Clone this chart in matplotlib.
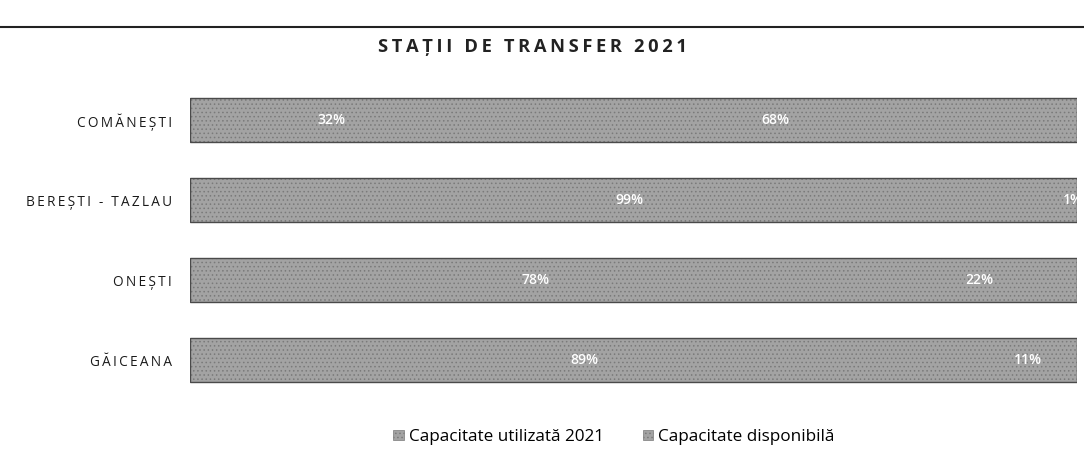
import matplotlib
matplotlib.use("Agg")
import matplotlib.pyplot as plt
from matplotlib.lines import Line2D
from matplotlib.patches import Patch

categories = ["COMĂNEȘTI", "BEREȘTI - TAZLAU", "ONEȘTI", "GĂICEANA"]
used = [32, 99, 78, 89]
available = [68, 1, 22, 11]
series_names = ["Capacitate utilizată 2021", "Capacitate disponibilă"]
title = "STAȚII DE TRANSFER 2021"

FONT = ["Open Sans", "DejaVu Sans"]
plt.rcParams['font.family'] = FONT
plt.rcParams['hatch.linewidth'] = 0.6

def spaced(s, sep="\u2009"):
    return sep.join(list(s))

fig = plt.figure(figsize=(10.84, 4.62), dpi=100)
ax = fig.add_axes([190/1084, 1-408/462, (1077-190)/1084, (408-72)/462])

y = list(range(len(categories)))
face = "#a3a3a3"
hcol = "#7a7a7a"
totals = [u + a for u, a in zip(used, available)]
ax.barh(y, used, height=0.55, color=face, edgecolor=hcol, hatch="....", linewidth=0)
ax.barh(y, available, left=used, height=0.55, color=face, edgecolor=hcol, hatch="....", linewidth=0)
ax.barh(y, totals, height=0.55, fill=False, edgecolor="#4a4a4a", linewidth=1.0)

for i in range(len(categories)):
    ax.text(used[i]/2, y[i], f"{used[i]}%", color="white", ha="center", va="center",
            fontsize=10, fontweight="semibold", clip_on=False)
    ax.text(used[i] + available[i]/2, y[i], f"{available[i]}%", color="white", ha="center", va="center",
            fontsize=10, fontweight="semibold", clip_on=False)

ax.set_xlim(0, 100)
ax.set_ylim(3.6, -0.6)
ax.set_yticks(y)
ax.set_yticklabels([spaced(c) for c in categories], fontsize=9.8, color="#1a1a1a",
                   fontweight="medium")
ax.tick_params(axis='y', length=0, pad=13)
ax.set_xticks([])
for s in ax.spines.values():
    s.set_visible(False)

fig.text(533/1084, 1-47/462, spaced(title), ha="center", va="center", fontsize=13.2,
         fontweight="bold", color="#222222")

fig.add_artist(Line2D([0, 1], [1-27/462, 1-27/462], color="#222222", linewidth=1.5,
                      transform=fig.transFigure))

handles = [Patch(facecolor=face, edgecolor=hcol, hatch="....", linewidth=0.5),
           Patch(facecolor=face, edgecolor=hcol, hatch="....", linewidth=0.5)]
fig.legend(handles, series_names, loc="center", bbox_to_anchor=(614/1084, 1-437/462), ncol=2,
           frameon=False, fontsize=12.3, handlelength=0.6, handleheight=0.6, handletextpad=0.3,
           columnspacing=2.3)

fig.savefig("out.png", dpi=100)
